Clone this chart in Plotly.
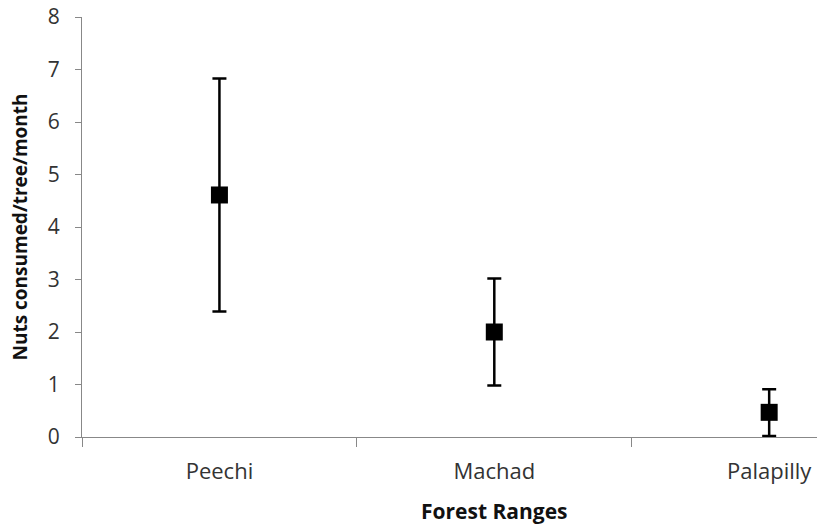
import plotly.graph_objects as go

categories = ["Peechi", "Machad", "Palapilly"]
means = [4.61, 2.0, 0.47]
err_plus = [2.22, 1.02, 0.44]
err_minus = [2.22, 1.02, 0.45]
y_ticks = [0, 1, 2, 3, 4, 5, 6, 7, 8]

xpos = list(range(len(categories)))

fig = go.Figure()
fig.add_trace(go.Scatter(
    x=xpos, y=means, mode="markers",
    marker=dict(symbol="square", size=17, color="black"),
    error_y=dict(type="data", symmetric=False, array=err_plus, arrayminus=err_minus,
                 color="black", thickness=2.5, width=7),
    showlegend=False,
))

font_family = "'Open Sans', Lato, sans-serif"
fig.update_layout(
    width=817, height=531,
    margin=dict(l=82, r=0, t=17, b=94),
    plot_bgcolor="white", paper_bgcolor="white",
    font=dict(family=font_family, size=20, color="#333333"),
    xaxis=dict(
        range=[-0.5, 2.174],
        tickvals=xpos, ticktext=categories,
        ticks="", showgrid=False, zeroline=False,
        showline=True, linecolor="#888888", linewidth=1,
        ticklabelstandoff=15,
        tickfont=dict(size=22),
        minor=dict(tickvals=[-0.5, 0.5, 1.5], ticks="outside", ticklen=9,
                   tickcolor="#888888", tickwidth=1, showgrid=False),
    ),
    yaxis=dict(
        range=[0, 8], tickvals=y_ticks,
        ticks="outside", ticklen=6, tickcolor="#888888",
        showgrid=False, zeroline=False,
        showline=True, linecolor="#888888", linewidth=1,
        tickfont=dict(size=21),
        ticklabelstandoff=11,
        title=dict(text="<b>Nuts consumed/tree/month</b>", font=dict(size=19, color="#111111"), standoff=15),
    ),
    annotations=[dict(
        x=1, xref="x", y=0, yref="paper", yanchor="top", xanchor="center",
        yshift=-58, showarrow=False,
        text="<b>Forest Ranges</b>", font=dict(size=21, color="#111111"),
    )],
)

fig.write_html("out.html")
